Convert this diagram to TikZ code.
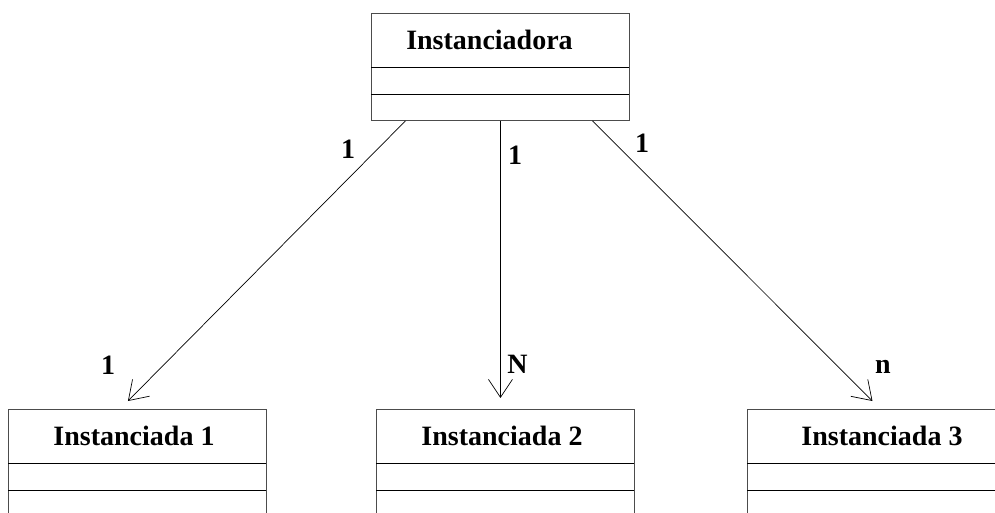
\documentclass[tikz,border=0pt]{standalone}
\usepackage{fontspec}
\setmainfont{Liberation Serif}
\usetikzlibrary{arrows.meta}
\begin{document}
\begin{tikzpicture}[x=1pt,y=-1pt,
  classbox/.style={draw=black!70, line width=0.9pt, minimum width=258pt, inner sep=0pt, anchor=north west},
  title/.style={font=\fontsize{28}{31}\selectfont\bfseries, inner sep=0pt},
  divider/.style={draw=black, line width=0.8pt},
  assoc/.style={draw=black, line width=0.7pt, -{Straight Barb[length=18pt,width=24pt,line width=0.7pt]}},
  mult/.style={font=\fontsize{28}{31}\selectfont\bfseries, inner sep=0pt, anchor=base}
]
\useasboundingbox (0,0) rectangle (995,513);
\clip (0,0) rectangle (995,513);

% top class
\node[classbox, minimum height=107pt] (top) at (371,13) {};
\node[title] (toptitle) at (489.5,40) {Instanciadora};
\draw[divider] (371,67) -- (629,67);
\draw[divider] (371,94) -- (629,94);

% bottom classes
\node[classbox, minimum height=130pt] (b1) at (8,409) {};
\node[title] (b1title) at (134,436) {Instanciada 1};
\draw[divider] (8,463) -- (266,463);
\draw[divider] (8,490) -- (266,490);

\node[classbox, minimum height=130pt] (b2) at (376,409) {};
\node[title] (b2title) at (502,436) {Instanciada 2};
\draw[divider] (376,463) -- (634,463);
\draw[divider] (376,490) -- (634,490);

\node[classbox, minimum height=130pt] (b3) at (747,409) {};
\node[title] (b3title) at (882,436) {Instanciada 3};
\draw[divider] (747,463) -- (1005,463);
\draw[divider] (747,490) -- (1005,490);

% associations
\draw[assoc] ([xshift=-95pt]top.south) -- ([xshift=-9.5pt,yshift=8pt]b1.north);
\draw[assoc] (top.south) -- ([xshift=-5pt,yshift=11pt]b2.north);
\draw[assoc] ([xshift=92pt]top.south) -- ([xshift=-4pt,yshift=8pt]b3.north);

% multiplicities
\node[mult] (m1a) at (348,159) {1};
\node[mult] (m2a) at (515,165) {1};
\node[mult] (m3a) at (642,153) {1};
\node[mult] (m1b) at (108,374) {1};
\node[mult] (m2b) at (517.5,373) {N};
\node[mult] (m3b) at (883,373) {n};
\end{tikzpicture}
\end{document}
